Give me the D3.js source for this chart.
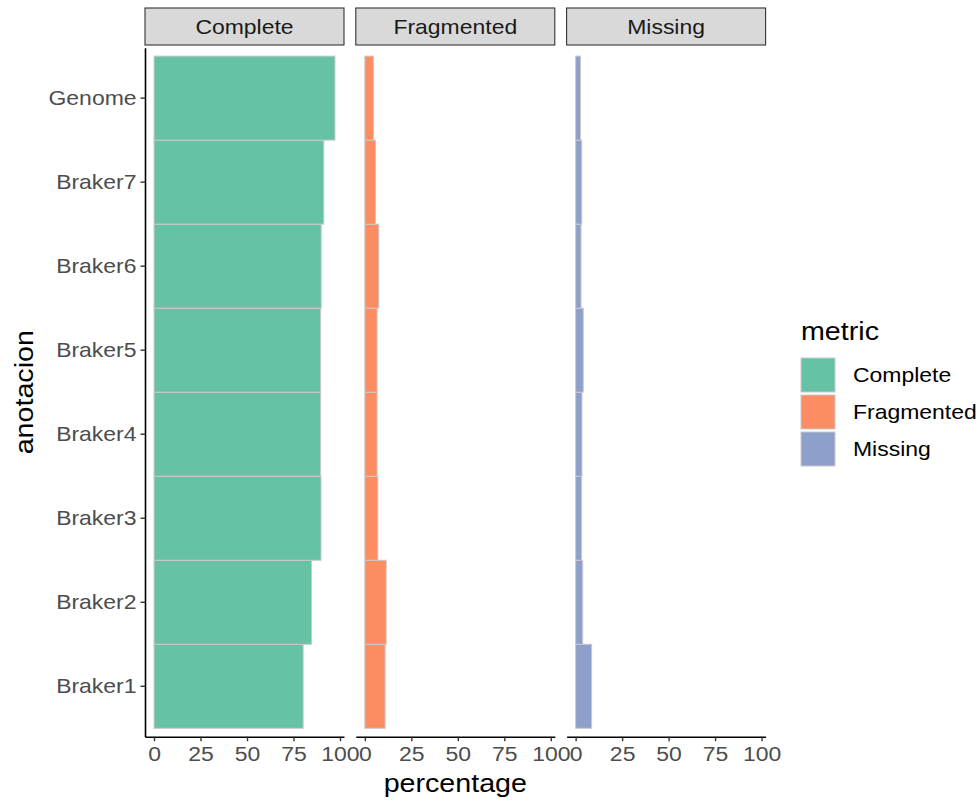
<!DOCTYPE html>
<html>
<head>
<meta charset="utf-8">
<script src="https://cdn.jsdelivr.net/npm/d3@7"></script>
<style>
  html, body { margin: 0; padding: 0; background: #ffffff; }
  svg { display: block; font-family: "Liberation Sans", Arial, sans-serif; }
</style>
</head>
<body>
<svg id="chart" width="979" height="802"></svg>
<script>
// Annotation sets, bottom to top on the y axis
const categories = ["Braker1", "Braker2", "Braker3", "Braker4", "Braker5", "Braker6", "Braker7", "Genome"];
const metrics = ["Complete", "Fragmented", "Missing"];
// Percentage per annotation set, one array per metric
const completeValues   = [80.2, 84.7, 89.8, 89.6, 89.6, 89.9, 91.3, 97.3];
const fragmentedValues = [10.9, 11.5, 7.0, 6.6, 6.6, 7.5, 5.7, 4.6];
const missingValues    = [8.6, 3.8, 3.2, 3.4, 4.1, 2.9, 3.3, 2.6];
const xTickValues = [0, 25, 50, 75, 100];
const metricColors = ["#66c2a5", "#fc8d62", "#8da0cb"];

const seriesByMetric = [completeValues, fragmentedValues, missingValues];

const svg = d3.select("#chart");
const STRETCH = 1.12;           // glyph width factor for all text
const textSize = 20.5;
const titleSize = 25.6;

// panel geometry
const panelTop = 47.7, panelBottom = 736.7;
const panelW = 199, panelStep = 210.8, firstLeft = 145;
const stripTop = 8, stripH = 37;

// shared x scale (fixed scales across facets), 5% expansion on the data range
const maxVal = d3.max(seriesByMetric.flat());
const x = d3.scaleLinear()
  .domain([-0.05 * maxVal, 1.05 * maxVal])
  .range([0, panelW]);

// discrete y scale with 0.6 unit expansion on each side
const y = d3.scaleBand()
  .domain(categories)
  .range([panelBottom, panelTop])
  .paddingInner(0)
  .paddingOuter(0.1);

const color = d3.scaleOrdinal().domain(metrics).range(metricColors);

function stretchText(sel, px, py) {
  sel.attr("x", null).attr("y", null)
     .attr("transform", `translate(${px},${py}) scale(${STRETCH},1)`);
}

metrics.forEach((m, i) => {
  const left = firstLeft + i * panelStep;
  const g = svg.append("g").attr("transform", `translate(${left},0)`);
  const vals = seriesByMetric[i];

  // strip
  g.append("rect")
    .attr("x", 0).attr("y", stripTop)
    .attr("width", panelW).attr("height", stripH)
    .attr("fill", "#d9d9d9")
    .attr("stroke", "#333333").attr("stroke-width", 1.1);
  g.append("text")
    .text(m)
    .attr("fill", "#1a1a1a")
    .attr("font-size", textSize)
    .attr("text-anchor", "middle")
    .call(stretchText, panelW / 2, stripTop + stripH / 2 + 7.4);

  // bars
  g.selectAll("rect.bar")
    .data(categories.map((c, j) => ({ cat: c, value: vals[j] })))
    .join("rect")
    .attr("class", "bar")
    .attr("x", x(0))
    .attr("y", d => y(d.cat))
    .attr("width", d => x(d.value) - x(0))
    .attr("height", y.bandwidth())
    .attr("fill", color(m))
    .attr("stroke", "#c9c9c9")
    .attr("stroke-width", 1);

  // x axis
  const ax = g.append("g")
    .attr("transform", `translate(0,${panelBottom})`)
    .call(d3.axisBottom(x).tickValues(xTickValues).tickSize(4.5).tickSizeOuter(0).tickPadding(5.5));
  ax.select(".domain").attr("stroke", "#000").attr("stroke-width", 1.6);
  ax.selectAll(".tick line").attr("stroke", "#333").attr("stroke-width", 1.4);
  ax.selectAll(".tick text")
    .attr("fill", "#4d4d4d")
    .attr("font-size", textSize)
    .attr("font-family", "Liberation Sans, Arial, sans-serif")
    .attr("transform", `scale(${STRETCH},1)`);

  // y axis on the first column only
  if (i === 0) {
    const ay = g.append("g")
      .call(d3.axisLeft(y).tickSize(4.5).tickSizeOuter(0).tickPadding(4));
    ay.select(".domain").attr("stroke", "#000").attr("stroke-width", 1.6);
    ay.selectAll(".tick line").attr("stroke", "#333").attr("stroke-width", 1.4);
    ay.selectAll(".tick text")
      .attr("fill", "#4d4d4d")
      .attr("font-size", textSize)
      .attr("font-family", "Liberation Sans, Arial, sans-serif")
      .attr("x", -8.5 / STRETCH)
      .attr("transform", `scale(${STRETCH},1)`);
  }
});

// axis titles
const plotLeft = firstLeft, plotRight = firstLeft + 2 * panelStep + panelW;
svg.append("text")
  .text("percentage")
  .attr("font-size", titleSize)
  .attr("fill", "#000")
  .attr("text-anchor", "middle")
  .call(stretchText, (plotLeft + plotRight) / 2, 792);

svg.append("text")
  .text("anotacion")
  .attr("font-size", titleSize)
  .attr("fill", "#000")
  .attr("text-anchor", "middle")
  .attr("transform", `translate(33,${(panelTop + panelBottom) / 2}) rotate(-90) scale(${STRETCH},1)`);

// legend
const legend = svg.append("g").attr("transform", "translate(801,0)");
legend.append("text")
  .text("metric")
  .attr("font-size", titleSize)
  .attr("fill", "#000")
  .call(stretchText, 0, 339.5);

const keySize = 34, keyStep = 37, keyTop = 358;
metrics.forEach((m, i) => {
  legend.append("rect")
    .attr("x", 0).attr("y", keyTop + i * keyStep)
    .attr("width", keySize).attr("height", keySize)
    .attr("fill", color(m))
    .attr("stroke", "#c9c9c9").attr("stroke-width", 1);
  legend.append("text")
    .text(m)
    .attr("font-size", textSize)
    .attr("fill", "#000")
    .call(stretchText, 52, keyTop + i * keyStep + keySize / 2 + 7.3);
});
</script>
</body>
</html>
